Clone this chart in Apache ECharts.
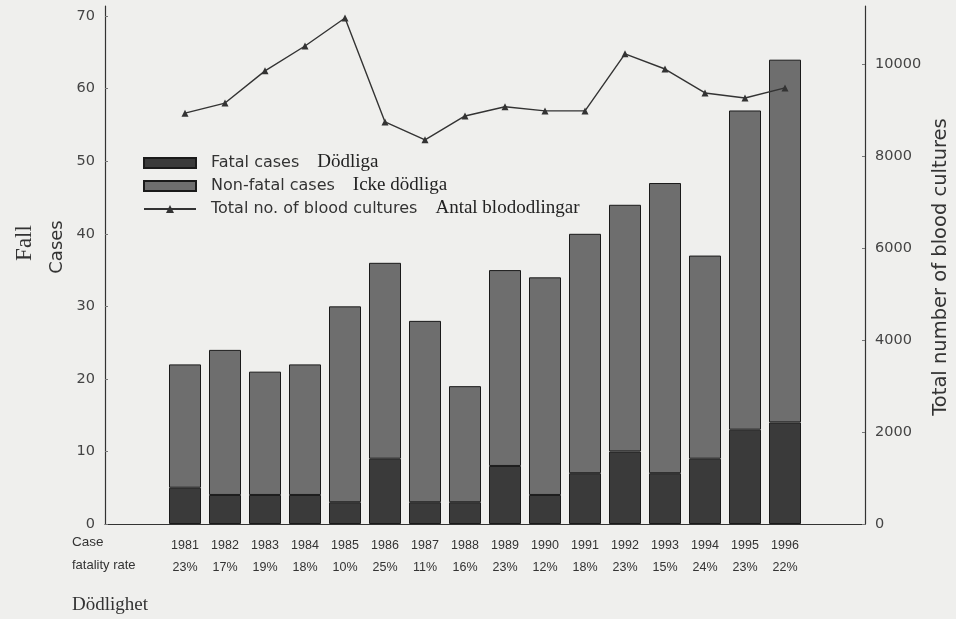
<!DOCTYPE html>
<html>
<head>
<meta charset="utf-8">
<script src="https://cdn.jsdelivr.net/npm/echarts@6/dist/echarts.min.js"></script>
<style>
  html, body { margin: 0; padding: 0; background: #efefed; }
  #chart { width: 956px; height: 619px; }
</style>
</head>
<body>
<div id="chart"></div>
<script>
// years with data; the axis also has two empty slots on each side
const years = ['1981', '1982', '1983', '1984', '1985', '1986', '1987', '1988', '1989', '1990', '1991', '1992', '1993', '1994', '1995', '1996']
const axisYears = ['1979', '1980'].concat(years, ['1997', '1998'])
// case fatality rate, printed under each year
const fatalityRate = ['23%', '17%', '19%', '18%', '10%', '25%', '11%', '16%', '23%', '12%', '18%', '23%', '15%', '24%', '23%', '22%']
// cases (left axis)
const fatalCases = [5, 4, 4, 4, 3, 9, 3, 3, 8, 4, 7, 10, 7, 9, 13, 14]
const nonFatalCases = [17, 20, 17, 18, 27, 27, 25, 16, 27, 30, 33, 34, 40, 28, 44, 50]
// total number of blood cultures (right axis)
const bloodCultures = [8930, 9150, 9850, 10390, 11000, 8740, 8350, 8870, 9070, 8980, 8980, 10220, 9890, 9370, 9260, 9480]

const sans = 'DejaVu Sans, Verdana, sans-serif'
const arial = 'Liberation Sans, Arial, sans-serif'
const serif = 'Liberation Serif, Times New Roman, serif'

const chart = echarts.init(document.getElementById('chart'))

const rateByYear = {}
years.forEach((y, i) => { rateByYear[y] = fatalityRate[i] })

const option = {
  backgroundColor: '#efefed',
  animation: false,
  grid: { left: 105, right: 91, top: 6, bottom: 95 },
  legend: {
    orient: 'vertical',
    left: 143,
    top: 153,
    padding: 0,
    itemWidth: 52,
    itemHeight: 10,
    itemGap: 3,
    data: [
      { name: 'Fatal cases', icon: 'rect' },
      { name: 'Non-fatal cases', icon: 'rect' },
      { name: 'Total no. of blood cultures' }
    ],
    formatter: name => {
      const sv = { 'Fatal cases': 'Dödliga', 'Non-fatal cases': 'Icke dödliga', 'Total no. of blood cultures': 'Antal blododlingar' }[name]
      return name + '{sv|' + sv + '}'
    },
    textStyle: {
      fontFamily: sans,
      fontSize: 16,
      color: '#333',
      lineHeight: 16,
      padding: [0, 0, 0, 10],
      rich: {
        sv: { fontFamily: serif, fontSize: 19, color: '#222', lineHeight: 16, padding: [0, 0, 1, 18] }
      }
    }
  },
  xAxis: {
    type: 'category',
    data: axisYears,
    boundaryGap: false,
    splitLine: { show: false },
    axisLine: { lineStyle: { color: '#333', width: 1.2 } },
    axisTick: { show: false },
    axisLabel: {
      interval: 0,
      margin: 11,
      fontFamily: arial,
      fontSize: 12.5,
      color: '#333',
      lineHeight: 22,
      formatter: v => rateByYear[v] ? v + '\n' + rateByYear[v] : ''
    }
  },
  yAxis: [
    {
      type: 'value',
      min: 0,
      max: 71.4,
      interval: 10,
      splitLine: { show: false },
      axisLine: { show: true, lineStyle: { color: '#333', width: 1.2 } },
      axisTick: { show: true, inside: true, length: 3, lineStyle: { color: '#777' } },
      axisLabel: { margin: 10, fontFamily: sans, fontSize: 14.5, color: '#444', showMaxLabel: false }
    },
    {
      type: 'value',
      min: 0,
      max: 11260,
      interval: 2000,
      position: 'right',
      splitLine: { show: false },
      axisLine: { show: true, lineStyle: { color: '#333', width: 1.2 } },
      axisTick: { show: true, inside: true, length: 3, lineStyle: { color: '#777' } },
      axisLabel: { margin: 10, fontFamily: sans, fontSize: 14.5, color: '#444', showMaxLabel: false, formatter: v => String(v) }
    }
  ],
  series: [
    {
      name: 'Fatal cases',
      type: 'bar',
      stack: 'cases',
      barWidth: 32,
      data: years.map((y, i) => [y, fatalCases[i]]),
      itemStyle: { color: '#3a3a3a', borderColor: '#1a1a1a', borderWidth: 1 }
    },
    {
      name: 'Non-fatal cases',
      type: 'bar',
      stack: 'cases',
      barWidth: 32,
      data: years.map((y, i) => [y, nonFatalCases[i]]),
      itemStyle: { color: '#6e6e6e', borderColor: '#1a1a1a', borderWidth: 1 }
    },
    {
      name: 'Total no. of blood cultures',
      type: 'line',
      yAxisIndex: 1,
      data: years.map((y, i) => [y, bloodCultures[i]]),
      symbol: 'triangle',
      symbolSize: 7,
      lineStyle: { color: '#333', width: 1.4 },
      itemStyle: { color: '#333' }
    }
  ],
  graphic: [
    { type: 'text', left: 72, top: 535, style: { text: 'Case', font: '13.5px ' + arial, fill: '#333' } },
    { type: 'text', left: 72, top: 559, style: { text: 'fatality rate', font: '13px ' + arial, fill: '#333' } },
    { type: 'text', left: 72, top: 596, style: { text: 'Dödlighet', font: '19px ' + serif, fill: '#333' } },
    {
      type: 'text', x: 25, y: 243, rotation: Math.PI / 2,
      style: { text: 'Fall', font: '23px ' + serif, fill: '#333', textAlign: 'center', textVerticalAlign: 'middle' }
    },
    {
      type: 'text', x: 57, y: 247, rotation: Math.PI / 2,
      style: { text: 'Cases', font: '18px ' + sans, fill: '#333', textAlign: 'center', textVerticalAlign: 'middle' }
    },
    {
      type: 'text', x: 941, y: 267, rotation: Math.PI / 2,
      style: { text: 'Total number of blood cultures', font: '19.5px ' + sans, fill: '#333', textAlign: 'center', textVerticalAlign: 'middle' }
    }
  ]
}

chart.setOption(option)
</script>
</body>
</html>
